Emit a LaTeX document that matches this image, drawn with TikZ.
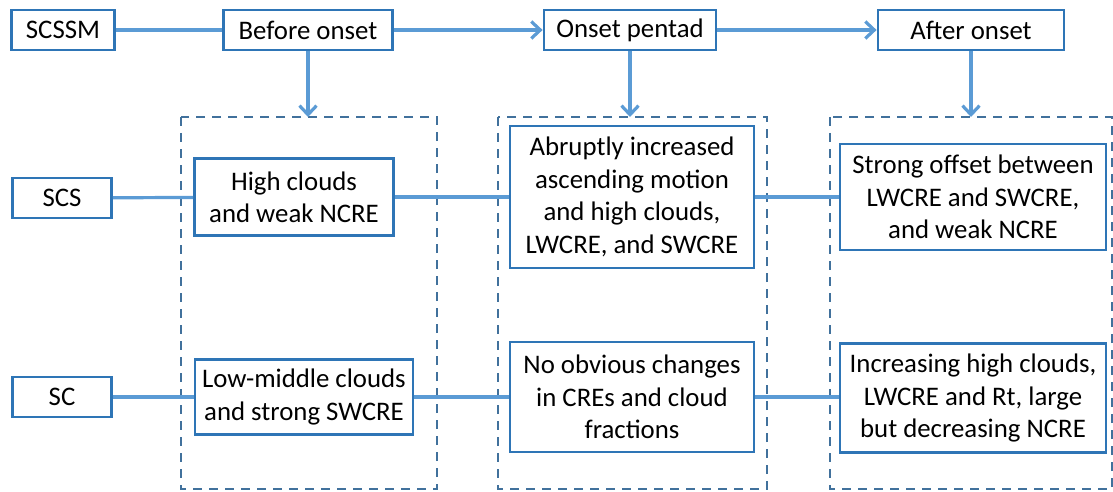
\documentclass[tikz,border=0pt]{standalone}
\usepackage{fontspec}
\setmainfont{Carlito}
\usetikzlibrary{arrows.meta}
\definecolor{boxblue}{HTML}{2E75B6}
\definecolor{lineblue}{HTML}{5B9BD5}
\definecolor{dashblue}{HTML}{41719C}
\tikzset{
  bx/.style={draw=boxblue, line width=2.8pt, fill=white, inner sep=0pt, align=center,
    font=\fontsize{26.8}{32.4}\selectfont, text=black},
  conn/.style={draw=lineblue, line width=3.2pt},
  arr/.style={conn, -{Straight Barb[length=9pt,width=17pt,line width=3.2pt]}},
  grp/.style={draw=dashblue, line width=2.6pt, dash pattern=on 9pt off 7pt},
}
\begin{document}
\begin{tikzpicture}[x=1pt,y=-1pt]
\useasboundingbox (0,0) rectangle (1113,492);
% group boxes
\draw[grp] (181,117) rectangle (437,489);
\draw[grp] (498,117) rectangle (767,489);
\draw[grp] (830,117) rectangle (1112,489);
% top row
\node[bx, minimum width=103pt, minimum height=40pt] (scssm) at (63,30) {SCSSM};
\node[bx, minimum width=169pt, minimum height=40pt] (before) at (308,30) {Before onset};
\node[bx, minimum width=172pt, minimum height=40pt] (onset) at (630,30) {Onset pentad};
\node[bx, minimum width=186pt, minimum height=40pt] (after) at (971,30) {After onset};
% left labels
\node[bx, minimum width=99pt, minimum height=40pt] (scs) at (62,198) {SCS};
\node[bx, minimum width=99pt, minimum height=40pt] (sc) at (62,397) {SC};
% SCS row
\node[bx, minimum width=199pt, minimum height=77pt] (hc) at (294,197) {High clouds\\and weak NCRE};
\node[bx, minimum width=244pt, minimum height=142pt] (ab) at (632,197) {Abruptly increased\\ascending motion\\and high clouds,\\LWCRE, and SWCRE};
\node[bx, minimum width=266pt, minimum height=106pt] (so) at (973,197) {Strong offset between\\LWCRE and SWCRE,\\and weak NCRE};
% SC row
\node[bx, minimum width=218pt, minimum height=75pt] (lm) at (304,397) {Low-middle clouds\\and strong SWCRE};
\node[bx, minimum width=244pt, minimum height=110pt] (no) at (632,397) {No obvious changes\\in CREs and cloud\\fractions};
\node[bx, minimum width=266pt, minimum height=109pt] (inc) at (973,398) {Increasing high clouds,\\LWCRE and Rt, large\\but decreasing NCRE};
% anchor coordinates on dashed tops
\coordinate (t1) at (308,117);
\coordinate (t2) at (630,117);
\coordinate (t3) at (971,117);
% connectors
\draw[conn] (scssm) -- (before);
\draw[arr] (before) -- (onset);
\draw[arr] (onset) -- (after);
\draw[arr] (before.south) -- (t1);
\draw[arr] (onset.south) -- (t2);
\draw[arr] (after.south) -- (t3);
\draw[conn] (scs) -- (hc);
\draw[conn] (hc) -- (ab);
\draw[conn] (ab) -- (so);
\draw[conn] (sc) -- (lm);
\draw[conn] (lm) -- (no);
\draw[conn] (no.east) -- (inc.west |- no.east);
\end{tikzpicture}
\end{document}
